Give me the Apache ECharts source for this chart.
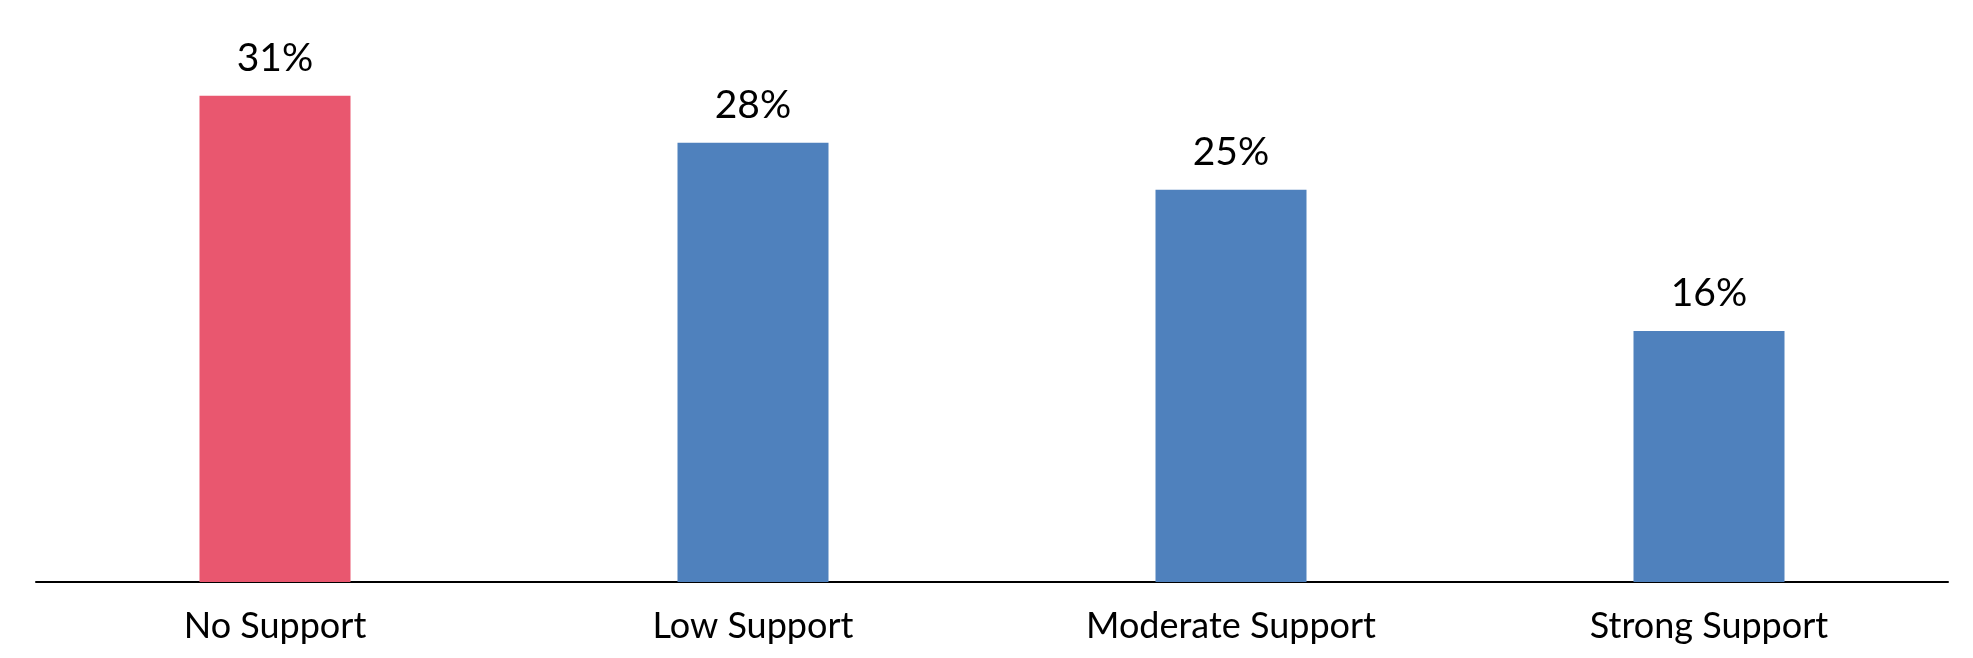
<!DOCTYPE html>
<html>
<head>
<meta charset="utf-8">
<script src="https://cdn.jsdelivr.net/npm/echarts@6/dist/echarts.min.js"></script>
<style>
  html, body { margin: 0; padding: 0; background: #fff; }
  #chart { width: 1973px; height: 658px; }
</style>
</head>
<body>
<div id="chart"></div>
<script>
var categories = ['No Support', 'Low Support', 'Moderate Support', 'Strong Support'];
var values = [31, 28, 25, 16];
var barColors = ['#E9576F', '#4F81BD', '#4F81BD', '#4F81BD'];

var myChart = echarts.init(document.getElementById('chart'), null, { renderer: 'canvas' });

var option = {
  animation: false,
  grid: { left: 36, right: 25, top: 33, bottom: 76 },
  xAxis: {
    type: 'category',
    data: categories,
    axisTick: { show: false },
    axisLine: { lineStyle: { color: '#000', width: 2 } },
    axisLabel: {
      color: '#000',
      fontFamily: 'Lato',
      fontSize: 36,
      margin: 26
    }
  },
  yAxis: {
    type: 'value',
    min: 0,
    max: 35,
    show: false,
    splitLine: { show: false }
  },
  series: [{
    type: 'bar',
    barWidth: 151,
    data: values.map(function (v, i) {
      return { value: v, itemStyle: { color: barColors[i] } };
    }),
    label: {
      show: true,
      position: 'top',
      distance: 18,
      color: '#000',
      fontFamily: 'Lato',
      fontSize: 39,
      formatter: '{c}%'
    }
  }]
};

myChart.setOption(option);
</script>
</body>
</html>
